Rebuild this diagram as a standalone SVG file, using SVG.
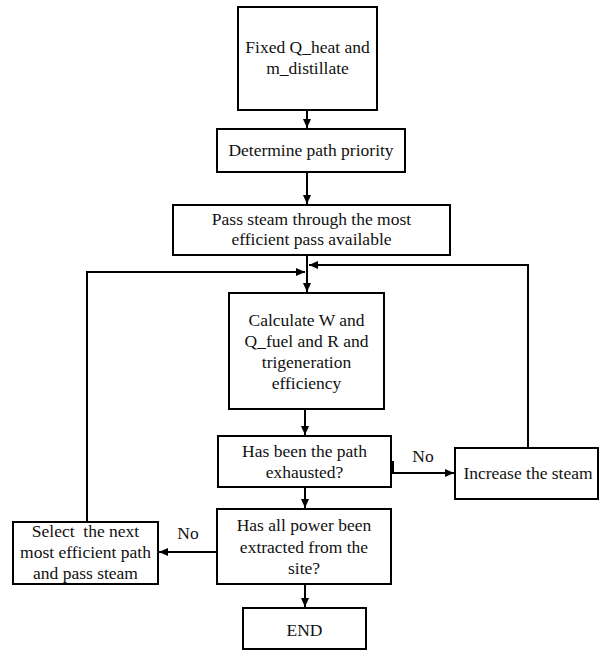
<svg xmlns="http://www.w3.org/2000/svg" width="600" height="651" viewBox="0 0 600 651">
<style>
.box{fill:#fff;stroke:#000;stroke-width:2}
.t{font-family:"Liberation Serif","Times New Roman",serif;font-size:17.5px;fill:#111;text-anchor:middle}
.c{fill:none;stroke:#000;stroke-width:2}
</style>
<defs>
<marker id="ah" markerUnits="userSpaceOnUse" markerWidth="10" markerHeight="10" refX="9" refY="5" orient="auto">
<path d="M0,1 L9,5 L0,9 Z" fill="#000"/>
</marker>
</defs>
<rect width="600" height="651" fill="#fff"/>
<g id="connectors">
<path class="c" d="M307,110 V128" marker-end="url(#ah)"/>
<path class="c" d="M307,172 V204" marker-end="url(#ah)"/>
<path class="c" d="M307,255 V292" marker-end="url(#ah)"/>
<path class="c" d="M87,522 V272 H305" marker-end="url(#ah)"/>
<path class="c" d="M528,448 V265 H309" marker-end="url(#ah)"/>
<path class="c" d="M305,409 V435" marker-end="url(#ah)"/>
<path class="c" d="M391,462 H393 V473 H454" marker-end="url(#ah)"/>
<path class="c" d="M305,487 V508" marker-end="url(#ah)"/>
<path class="c" d="M217,552 H159" marker-end="url(#ah)"/>
<path class="c" d="M305,584 V607" marker-end="url(#ah)"/>
<text class="t" x="423" y="462">No</text>
<text class="t" x="188" y="539">No</text>
</g>
<g id="fixed">
<rect class="box" x="238" y="7" width="139" height="103"/>
<text class="t" x="307.5" y="53">Fixed Q_heat and</text>
<text class="t" x="307.5" y="74">m_distillate</text>
</g>
<g id="determine">
<rect class="box" x="217" y="129" width="188" height="43"/>
<text class="t" x="311" y="156">Determine path priority</text>
</g>
<g id="pass">
<rect class="box" x="173" y="205" width="277" height="50"/>
<text class="t" x="311.5" y="225">Pass steam through the most</text>
<text class="t" x="311.5" y="245">efficient pass available</text>
</g>
<g id="calculate">
<rect class="box" x="229" y="293" width="155" height="116"/>
<text class="t" x="306.5" y="326">Calculate W and</text>
<text class="t" x="306.5" y="347">Q_fuel and R and</text>
<text class="t" x="306.5" y="368">trigeneration</text>
<text class="t" x="306.5" y="389">efficiency</text>
</g>
<g id="exhausted">
<rect class="box" x="218" y="436" width="173" height="51"/>
<text class="t" x="304.5" y="457">Has been the path</text>
<text class="t" x="304.5" y="478">exhausted?</text>
</g>
<g id="increase">
<rect class="box" x="455" y="448" width="143" height="51"/>
<text class="t" x="528" y="479">Increase the steam</text>
</g>
<g id="power">
<rect class="box" x="217" y="509" width="174" height="75"/>
<text class="t" x="304" y="531">Has all power been</text>
<text class="t" x="304" y="553">extracted from the</text>
<text class="t" x="304" y="574">site?</text>
</g>
<g id="select">
<rect class="box" x="13" y="522" width="145" height="62"/>
<text class="t" x="85.5" y="537" xml:space="preserve">Select  the next</text>
<text class="t" x="85.5" y="558">most efficient path</text>
<text class="t" x="85.5" y="579">and pass steam</text>
</g>
<g id="end">
<rect class="box" x="243" y="608" width="123" height="41"/>
<text class="t" x="304.5" y="636">END</text>
</g>
</svg>
